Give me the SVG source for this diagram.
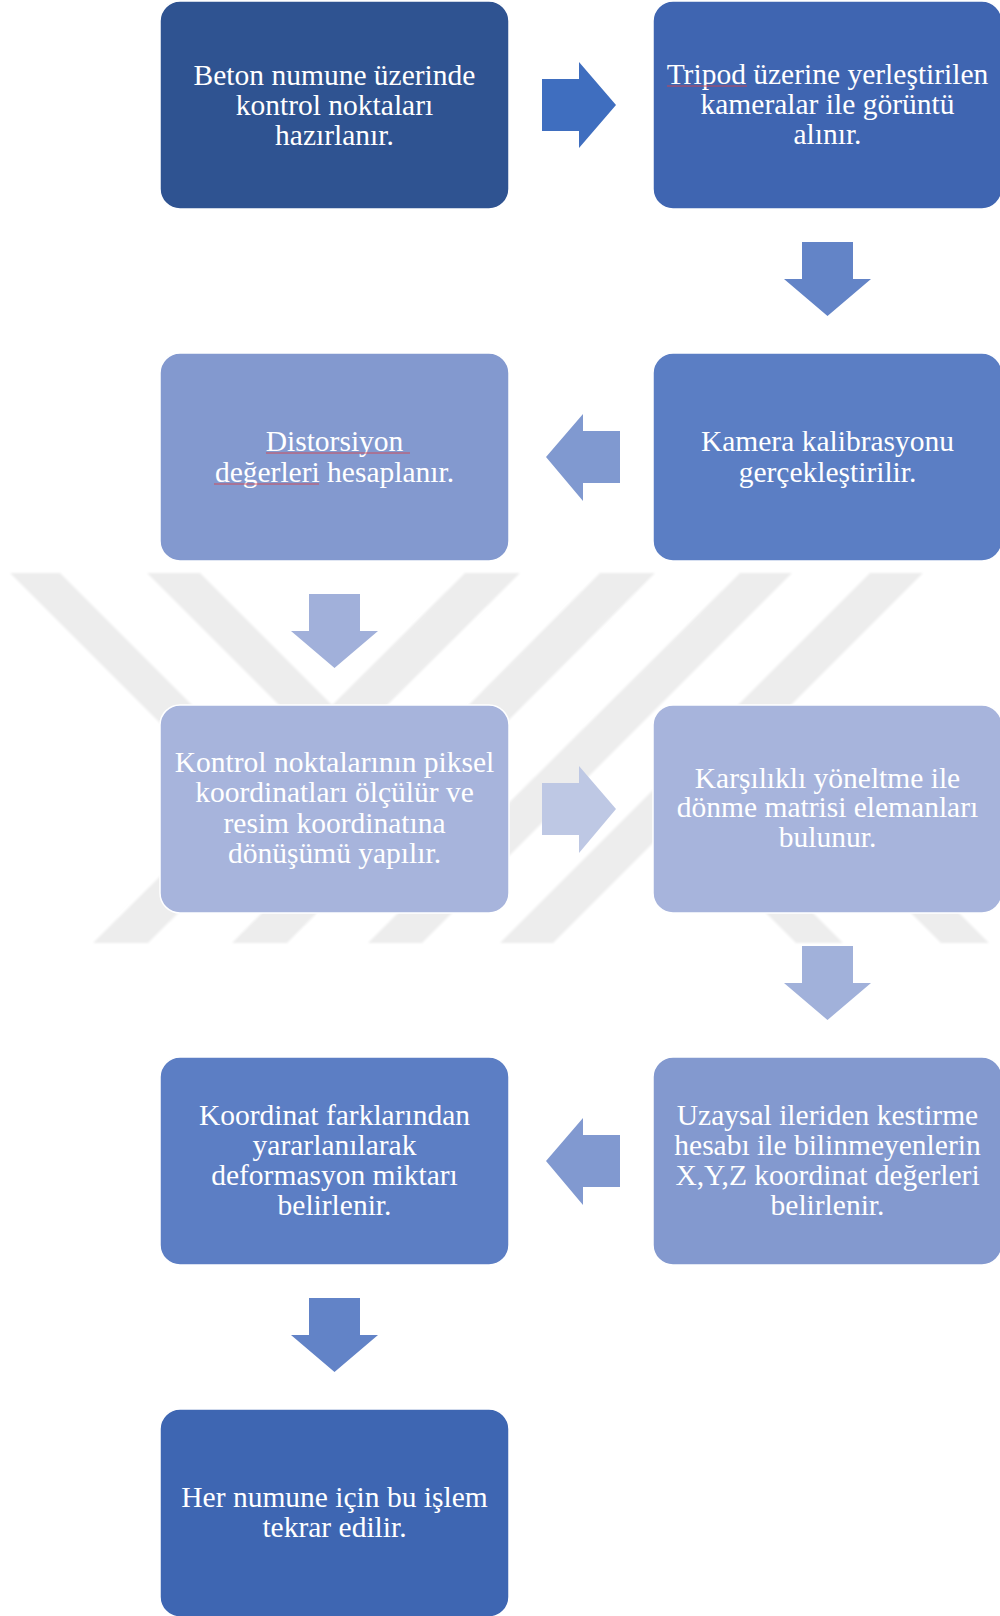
<svg xmlns="http://www.w3.org/2000/svg" width="1000" height="1616" viewBox="0 0 1000 1616">
  <style>
    .box { stroke: #ffffff; stroke-width: 1.5; }
    .lbl { font-family: "Liberation Serif", "Times New Roman", serif; font-size: 29.5px; fill: #ffffff; text-anchor: middle; }
    .wm { fill: #ededed; }
    .spell { stroke: #d9434a; stroke-width: 1; fill: none; opacity: 0.85; }
  </style>
  <defs>
    <filter id="soft" x="-5%" y="-5%" width="110%" height="110%">
      <feGaussianBlur stdDeviation="1.2"/>
    </filter>
  </defs>

  <rect x="0" y="0" width="1000" height="1616" fill="#ffffff"/>

  <!-- background stripe emblem -->
  <g id="emblem" filter="url(#soft)">
    <polygon class="wm" points="10,573 60,573 287,800 237,800"/>
    <polygon class="wm" points="147,573 200,573 427,800 374,800"/>
    <polygon class="wm" points="465,573 520,573 148,943 93,943"/>
    <polygon class="wm" points="600,573 655,573 287,943 232,943"/>
    <polygon class="wm" points="740,573 792,573 422,943 368,943"/>
    <polygon class="wm" points="870,573 923,573 553,943 500,943"/>
    <polygon class="wm" points="703,850 750,850 843,943 796,943"/>
    <polygon class="wm" points="848,850 896,850 989,943 941,943"/>
  </g>

  <!-- block arrows between the steps -->
  <g id="connectors">
    <polygon fill="#3f6ebf" points="542,79 579,79 579,62 616,105 579,148 579,131 542,131"/>
    <polygon fill="#6384c7" points="802,242 853,242 853,279 871,279 827.5,316 784,279 802,279"/>
    <polygon fill="#8099d0" points="620,431 583,431 583,414 546,457 583,501 583,483 620,483"/>
    <polygon fill="#a1b0da" points="309,594 360,594 360,631 378,631 334.5,668 291,631 309,631"/>
    <polygon fill="#bec8e4" points="542,783 579,783 579,766 616,809 579,853 579,835 542,835"/>
    <polygon fill="#a1b1da" points="802,946 853,946 853,983 871,983 827.5,1020 784,983 802,983"/>
    <polygon fill="#8199d0" points="620,1135 583,1135 583,1118 546,1161 583,1205 583,1187 620,1187"/>
    <polygon fill="#6283c7" points="309,1298 360,1298 360,1335 378,1335 334.5,1372 291,1335 309,1335"/>
  </g>

  <g id="step1">
    <rect class="box" x="160" y="1" width="349" height="208" rx="20" fill="#2f5391"/>
    <text class="lbl" x="334.5" y="85">Beton numune üzerinde</text>
    <text class="lbl" x="334.5" y="115">kontrol noktaları</text>
    <text class="lbl" x="334.5" y="145">hazırlanır.</text>
  </g>

  <g id="step2">
    <rect class="box" x="653" y="1" width="349" height="208" rx="20" fill="#3f65b1"/>
    <text class="lbl" x="827.5" y="84">Tripod üzerine yerleştirilen</text>
    <text class="lbl" x="827.5" y="114">kameralar ile görüntü</text>
    <text class="lbl" x="827.5" y="144">alınır.</text>
    <line class="spell" x1="667" y1="86" x2="747" y2="86"/>
  </g>

  <g id="step3">
    <rect class="box" x="653" y="353" width="349" height="208" rx="20" fill="#5b7ec4"/>
    <text class="lbl" x="827.5" y="451">Kamera kalibrasyonu</text>
    <text class="lbl" x="827.5" y="482">gerçekleştirilir.</text>
  </g>

  <g id="step4">
    <rect class="box" x="160" y="353" width="349" height="208" rx="20" fill="#8399cf"/>
    <text class="lbl" x="334.5" y="451">Distorsiyon</text>
    <text class="lbl" x="334.5" y="482">değerleri hesaplanır.</text>
    <line class="spell" x1="266" y1="453" x2="410" y2="453"/>
    <line class="spell" x1="214" y1="484" x2="319" y2="484"/>
  </g>

  <g id="step5">
    <rect class="box" x="160" y="705" width="349" height="208" rx="20" fill="#a7b4dc"/>
    <text class="lbl" x="334.5" y="772">Kontrol noktalarının piksel</text>
    <text class="lbl" x="334.5" y="802">koordinatları ölçülür ve</text>
    <text class="lbl" x="334.5" y="833">resim koordinatına</text>
    <text class="lbl" x="334.5" y="863">dönüşümü yapılır.</text>
  </g>

  <g id="step6">
    <rect class="box" x="653" y="705" width="349" height="208" rx="20" fill="#a7b4dc"/>
    <text class="lbl" x="827.5" y="788">Karşılıklı yöneltme ile</text>
    <text class="lbl" x="827.5" y="817">dönme matrisi elemanları</text>
    <text class="lbl" x="827.5" y="847">bulunur.</text>
  </g>

  <g id="step7">
    <rect class="box" x="653" y="1057" width="349" height="208" rx="20" fill="#8399cf"/>
    <text class="lbl" x="827.5" y="1125">Uzaysal ileriden kestirme</text>
    <text class="lbl" x="827.5" y="1155">hesabı ile bilinmeyenlerin</text>
    <text class="lbl" x="827.5" y="1185">X,Y,Z koordinat değerleri</text>
    <text class="lbl" x="827.5" y="1215">belirlenir.</text>
  </g>

  <g id="step8">
    <rect class="box" x="160" y="1057" width="349" height="208" rx="20" fill="#5c7ec4"/>
    <text class="lbl" x="334.5" y="1125">Koordinat farklarından</text>
    <text class="lbl" x="334.5" y="1155">yararlanılarak</text>
    <text class="lbl" x="334.5" y="1185">deformasyon miktarı</text>
    <text class="lbl" x="334.5" y="1215">belirlenir.</text>
  </g>

  <g id="step9">
    <rect class="box" x="160" y="1409" width="349" height="208" rx="20" fill="#3e66b2"/>
    <text class="lbl" x="334.5" y="1507">Her numune için bu işlem</text>
    <text class="lbl" x="334.5" y="1537">tekrar edilir.</text>
  </g>
</svg>
